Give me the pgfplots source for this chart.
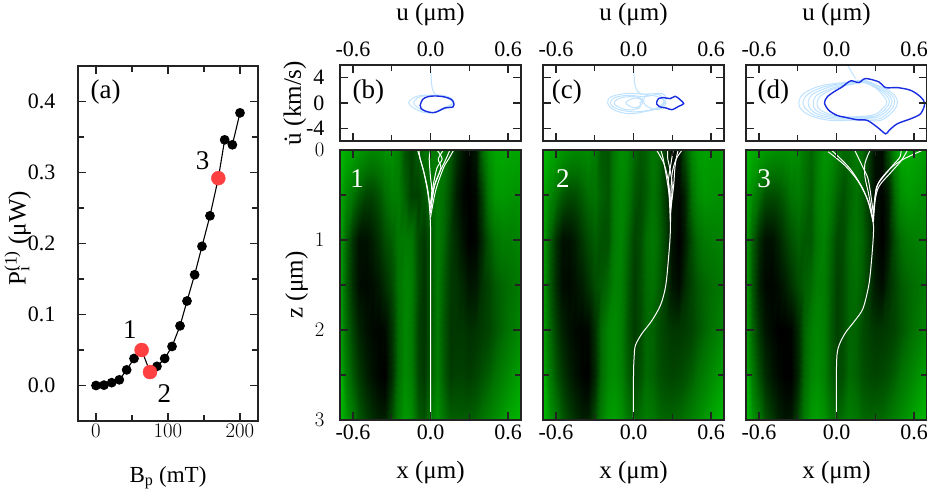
\documentclass[border=0pt]{standalone}
\usepackage{pgfplots}
\usepackage{pgfplotstable}
\pgfplotsset{compat=1.18}
\usepackage{fontspec}
\setmainfont{Liberation Serif}
\definecolor{lb}{RGB}{190,226,255}
\definecolor{db}{RGB}{25,45,225}
\definecolor{rd}{RGB}{255,64,64}
\definecolor{fr}{RGB}{35,35,35}
\pgfplotstableread[row sep=\\]{v\\
100\\92\\85\\78\\72\\68\\70\\75\\75\\65\\38\\30\\42\\55\\60\\62\\60\\45\\25\\10\\3\\12\\50\\78\\88\\90\\88\\88\\88\\
88\\70\\55\\42\\32\\32\\40\\52\\62\\62\\45\\30\\30\\40\\55\\60\\52\\35\\15\\3\\0\\5\\30\\62\\78\\80\\78\\75\\78\\
82\\48\\22\\8\\8\\14\\24\\36\\45\\58\\60\\58\\35\\26\\42\\60\\50\\30\\20\\8\\0\\3\\20\\42\\55\\62\\62\\64\\68\\
82\\45\\20\\6\\4\\6\\12\\22\\35\\55\\66\\62\\36\\24\\42\\60\\45\\28\\25\\18\\10\\12\\24\\32\\42\\48\\52\\56\\62\\
85\\52\\30\\16\\8\\4\\2\\5\\25\\52\\68\\60\\32\\24\\42\\60\\42\\26\\26\\26\\22\\24\\28\\32\\40\\48\\55\\62\\70\\
90\\62\\40\\26\\15\\8\\2\\0\\22\\52\\70\\62\\34\\26\\45\\62\\44\\28\\30\\30\\28\\32\\38\\45\\54\\62\\70\\78\\85\\
100\\80\\60\\42\\30\\22\\15\\15\\38\\62\\80\\72\\45\\38\\60\\75\\58\\45\\45\\44\\44\\48\\56\\64\\72\\80\\88\\95\\100\\
100\\80\\60\\42\\30\\22\\15\\15\\38\\62\\80\\72\\45\\38\\60\\75\\58\\45\\45\\44\\44\\48\\56\\64\\72\\80\\88\\95\\100\\
}\heatA
\pgfplotstableread[row sep=\\]{v\\
100\\92\\85\\78\\72\\70\\70\\72\\62\\42\\40\\60\\72\\68\\50\\42\\46\\58\\50\\25\\5\\8\\38\\70\\82\\85\\82\\82\\85\\
88\\70\\55\\42\\35\\36\\44\\52\\55\\45\\40\\60\\68\\60\\42\\36\\44\\55\\45\\25\\5\\3\\18\\55\\72\\78\\76\\74\\74\\
82\\48\\22\\8\\8\\14\\26\\36\\44\\38\\38\\60\\66\\50\\32\\36\\52\\58\\48\\30\\8\\0\\14\\38\\52\\60\\62\\64\\68\\
82\\45\\20\\6\\4\\8\\14\\24\\36\\42\\50\\64\\62\\45\\28\\36\\50\\54\\44\\28\\10\\5\\20\\32\\42\\48\\52\\56\\62\\
85\\52\\30\\16\\8\\4\\2\\4\\24\\50\\66\\70\\62\\42\\28\\34\\48\\46\\36\\30\\26\\26\\28\\32\\40\\48\\55\\62\\70\\
90\\62\\40\\26\\15\\8\\2\\0\\20\\50\\68\\72\\64\\46\\32\\38\\50\\46\\38\\34\\32\\34\\38\\45\\54\\62\\70\\78\\85\\
100\\80\\60\\42\\30\\22\\15\\15\\36\\62\\80\\84\\76\\60\\48\\54\\62\\58\\50\\48\\48\\50\\56\\64\\72\\80\\88\\95\\100\\
100\\80\\60\\42\\30\\22\\15\\15\\36\\62\\80\\84\\76\\60\\48\\54\\62\\58\\50\\48\\48\\50\\56\\64\\72\\80\\88\\95\\100\\
}\heatB
\pgfplotstableread[row sep=\\]{v\\
100\\92\\85\\80\\76\\74\\74\\76\\72\\58\\48\\62\\76\\72\\60\\50\\50\\60\\52\\28\\8\\6\\35\\72\\90\\92\\88\\84\\80\\
88\\70\\52\\38\\35\\38\\46\\56\\60\\52\\44\\62\\70\\62\\46\\38\\46\\55\\45\\24\\6\\2\\14\\52\\74\\80\\78\\74\\72\\
82\\46\\20\\8\\8\\16\\28\\38\\46\\42\\42\\58\\64\\50\\34\\36\\50\\56\\48\\30\\8\\0\\12\\38\\52\\60\\62\\64\\68\\
82\\42\\14\\4\\2\\6\\14\\24\\36\\44\\50\\62\\60\\46\\30\\36\\48\\52\\44\\28\\12\\6\\20\\32\\42\\48\\52\\56\\62\\
85\\48\\24\\10\\4\\0\\0\\2\\20\\46\\62\\68\\62\\44\\30\\36\\48\\46\\36\\30\\26\\26\\28\\32\\40\\48\\55\\62\\70\\
90\\60\\36\\20\\10\\4\\0\\0\\18\\48\\66\\72\\64\\46\\34\\38\\50\\46\\38\\34\\32\\34\\38\\45\\54\\62\\70\\78\\85\\
100\\78\\58\\38\\26\\16\\10\\12\\34\\60\\80\\84\\76\\60\\48\\54\\62\\58\\50\\48\\48\\50\\56\\64\\72\\80\\88\\95\\100\\
100\\78\\58\\38\\26\\16\\10\\12\\34\\60\\80\\84\\76\\60\\48\\54\\62\\58\\50\\48\\48\\50\\56\\64\\72\\80\\88\\95\\100\\
}\heatC
\pgfplotsset{
  base/.style={scale only axis, axis on top,
    axis line style={line width=1.5pt,fr},
    every tick/.style={line width=1.3pt,fr},
    major tick length=8pt, minor tick length=6pt,
    tick align=inside,
    tick label style={font=\fontsize{22}{24}\selectfont},
    xlabel style={font=\fontsize{25}{28}\selectfont},
    ylabel style={font=\fontsize{25}{28}\selectfont},
    yticklabel style={xshift=-12pt},
  },
  heat/.style={base, width=181pt, height=270pt, xmin=-0.7, xmax=0.7, ymin=0, ymax=3, y dir=reverse,
    xtick={-0.6,0,0.6}, xticklabels={-0.6,0.0,0.6}, minor xtick={-0.3,0.3},
    ytick={0,1,2,3}, minor ytick={0.5,1.5,2.5},
    colormap={gr}{rgb255(0)=(0,0,0) rgb255(5)=(0,110,0) rgb255(10)=(0,190,0)}, point meta min=0, point meta max=104,
    xlabel={x (μm)}, xlabel style={at={(axis description cs:0.5,-0.195)},anchor=center},
    xticklabel style={yshift=-1pt},
  },
  phase/.style={base, width=181pt, height=76pt, xmin=-0.7, xmax=0.7, ymin=-6, ymax=6,
    xtick={-0.6,0,0.6}, xticklabels={-0.6,0.0,0.6}, minor xtick={-0.3,0.3},
    xticklabel pos=top, xlabel={u (μm)},
    xticklabel style={yshift=5pt},
    xlabel style={at={(axis description cs:0.5,1.67)},anchor=center},
    ytick={-4,0,4}, yticklabels={,,}, 
  },
  hm/.style={surf, shader=interp, mesh/cols=29, point meta=\thisrow{v}},
  tr/.style={white, line width=1pt, smooth, tension=0.5},
  l/.style={lb, line width=1pt, smooth cycle, tension=0.6},
  t/.style={lb, line width=1pt, smooth, tension=0.6},
  d/.style={db, line width=1.4pt, smooth cycle, tension=0.5},
}
\newcommand{\bigf}{\fontsize{27}{30}\selectfont}
\begin{document}
\begin{tikzpicture}[x=1pt,y=1pt]
\useasboundingbox (0,0) rectangle (927,492);
% panel a
\begin{axis}[base, at={(78pt,71pt)}, anchor=south west, width=180pt, height=355pt,
  xmin=-25, xmax=225, ymin=-0.05, ymax=0.45,
  yticklabel style={xshift=-7pt},
  xtick={0,100,200}, minor xtick={50,150},
  ytick={0,0.1,0.2,0.3,0.4}, yticklabels={0.0,0.1,0.2,0.3,0.4}, minor ytick={0.05,0.15,0.25,0.35},
  xlabel={B\textsubscript{p} (mT)}, ylabel={P\rlap{\textsubscript{i}}\textsuperscript{(1)} (μW)},
  xlabel style={font=\fontsize{23}{26}\selectfont, at={(axis description cs:0.5,-0.16)},anchor=center},
  ylabel style={at={(axis description cs:-0.335,0.515)},anchor=center},
  clip=false]
\addplot[black, line width=1.1pt, mark=*, mark size=4.3pt, mark options={solid,fill=black,draw=black}] coordinates {
(0,0)(11.1,0.0005)(21.8,0.004)(32.4,0.008)(42.6,0.022)(52.8,0.038)(63.4,0.05)(75,0.019)(84.7,0.027)(95.4,0.038)(105.6,0.055)(116.7,0.084)(126.4,0.119)(137,0.156)(147.2,0.196)(158.3,0.239)(169.9,0.292)(178.7,0.346)(189.4,0.339)(200,0.384)};
\addplot[only marks, mark=*, mark size=7pt, mark options={fill=rd,draw=rd}] coordinates {(63.4,0.05)(75,0.019)(169.9,0.292)};
\node[font=\bigf,anchor=north west] at (axis description cs:0.05,0.97) {(a)};
\node[font=\bigf] at (axis cs:47,0.079) {1};
\node[font=\bigf] at (axis cs:95,-0.012) {2};
\node[font=\bigf] at (axis cs:148,0.316) {3};
\end{axis}
% panel b
\begin{axis}[phase, at={(340pt,351pt)}, anchor=south west, yticklabels={-4,0,4},
  ylabel={\.{u} (km/s)},
  ylabel style={at={(axis description cs:-0.25,0.5)},anchor=center}]
\addplot[t] coordinates {(0,5.9)(0.005,4)(0.012,2.5)(0.03,1.5)(0.06,1.2)};
\addplot[l] coordinates {(-0.17,0)(-0.14,0.7)(-0.08,1.2)(0,1.2)(0.1,1.2)(0.16,0.7)(0.18,0)(0.12,-0.8)(0.03,-1.5)(-0.05,-1.5)(-0.13,-0.8)};
\addplot[l] coordinates {(-0.13,0)(-0.1,0.8)(-0.04,1.15)(0.05,1.15)(0.13,0.8)(0.17,0)(0.1,-0.8)(0.02,-1.5)(-0.05,-1.3)(-0.1,-0.7)};
\addplot[d] coordinates {(-0.08,-0.37)(-0.06,0.58)(-0.02,1)(0.044,1.11)(0.109,0.95)(0.16,0.58)(0.18,0)(0.173,-0.63)(0.109,-0.79)(0.057,-1.32)(0.018,-1.53)(-0.034,-1.32)(-0.072,-0.9)};
\node[font=\bigf,anchor=west] at (axis description cs:0.05,0.64) {(b)};
\end{axis}
% panel c
\begin{axis}[phase, at={(543pt,351pt)}, anchor=south west]
\addplot[t] coordinates {(0,5.9)(0.005,4)(0.015,2.5)(0.05,1.5)(0.12,1.3)};
\addplot[l] coordinates {(-0.2,0)(-0.17,1)(-0.05,1.5)(0.1,1.4)(0.22,1.5)(0.25,0.8)(0.24,0)(0.2,-0.8)(0.1,-1.3)(-0.03,-1.7)(-0.15,-1.1)};
\addplot[l] coordinates {(-0.18,0)(-0.14,0.9)(-0.03,1.2)(0.08,1)(0.2,1.3)(0.23,0)(0.15,-1)(0,-1.4)(-0.13,-0.9)};
\addplot[l] coordinates {(-0.15,0)(-0.1,0.8)(0,1)(0.07,0.6)(0.05,0)(0.05,-0.7)(-0.02,-1.1)(-0.1,-0.8)};
\addplot[l] coordinates {(-0.06,0)(-0.03,0.5)(0.02,0.8)(0.06,0.5)(0.07,0)(0.03,-0.7)(-0.02,-0.6)};
\addplot[l] coordinates {(0.1,1.2)(0.2,0.9)(0.25,0)(0.2,-1)(0.12,-0.7)(0.08,0)};
\addplot[d] coordinates {(0.18,0.16)(0.194,0.69)(0.233,0.85)(0.284,0.69)(0.323,1.06)(0.357,0.58)(0.388,-0.1)(0.349,-0.53)(0.297,-1.06)(0.253,-0.79)(0.207,-0.63)(0.18,-0.2)};
\node[font=\bigf,anchor=west] at (axis description cs:0.03,0.64) {(c)};
\end{axis}
% panel d
\begin{axis}[phase, at={(746pt,351pt)}, anchor=south west]
\addplot[t] coordinates {(0.088,5.87)(0.147,3.86)};
\addplot[l] coordinates {(-0.292,0.16)(-0.253,1.48)(-0.15,2.54)(-0.02,3.07)(0.109,3.3)(0.21,3.6)(0.315,2.8)(0.42,1.75)(0.47,0.4)(0.444,-1.16)(0.34,-2.75)(0.21,-2.65)(0.083,-2.75)(-0.046,-2.75)(-0.176,-2.2)(-0.266,-1.16)};
\addplot[l] coordinates {(-0.26,0.1)(-0.22,1.4)(-0.12,2.4)(0,2.95)(0.11,3.2)(0.21,3.5)(0.31,2.7)(0.4,1.7)(0.45,0.4)(0.42,-1.1)(0.33,-2.5)(0.21,-2.4)(0.08,-2.55)(-0.04,-2.5)(-0.16,-2)(-0.23,-1.1)};
\addplot[l] coordinates {(-0.22,0.1)(-0.19,1.3)(-0.1,2.2)(0,2.8)(0.11,3.1)(0.21,3.4)(0.3,2.6)(0.39,1.5)(0.43,0.3)(0.4,-1)(0.32,-2.2)(0.21,-2.3)(0.08,-2.4)(-0.03,-2.3)(-0.14,-1.8)(-0.2,-1)};
\addplot[l] coordinates {(-0.18,0)(-0.16,1.1)(-0.08,2)(0.01,2.6)(0.11,3)(0.21,3.3)(0.3,2.5)(0.38,1.3)(0.41,0.2)(0.38,-0.9)(0.31,-2)(0.21,-2.2)(0.08,-2.3)(-0.02,-2.1)(-0.12,-1.6)(-0.17,-0.9)};
\addplot[l] coordinates {(-0.15,0)(-0.13,1)(-0.06,1.9)(0.02,2.5)(0.11,2.9)(0.21,3.2)(0.3,2.4)(0.36,1.2)(0.39,0.1)(0.36,-0.8)(0.3,-1.8)(0.2,-2.1)(0.08,-2.2)(-0.01,-2)(-0.1,-1.4)(-0.14,-0.8)};
\addplot[d] coordinates {(-0.093,0)(-0.072,0.95)(-0.021,1.75)(0.044,2.54)(0.109,3.49)(0.173,3.23)(0.225,3.86)(0.328,3.33)(0.38,2.43)(0.47,2.43)(0.574,2)(0.651,0.95)(0.682,-0.1)(0.651,-1.69)(0.574,-2.49)(0.47,-3.28)(0.406,-4.34)(0.38,-4.87)(0.315,-3.81)(0.238,-2.75)(0.16,-2.65)(0.083,-2.33)(0.005,-1.96)(-0.059,-1.16)};
\node[font=\bigf,anchor=west] at (axis description cs:0.045,0.64) {(d)};
\end{axis}
% heat 1
\begin{axis}[heat, at={(340pt,72pt)}, anchor=south west,
  ylabel={z (μm)}, ylabel style={at={(axis description cs:-0.24,0.5)},anchor=center}]
\addplot[hm] table[x index=0, y index=0, x expr={-0.7+0.05*mod(\coordindex,29)}, y expr={0.5*floor(\coordindex/29)}] {\heatA};
\addplot[tr] coordinates {(0,3)(0,2)(0,1.2)(0,0.85)(-0.01,0.6)(-0.03,0.4)(-0.06,0.2)(-0.1,0)};
\addplot[tr] coordinates {(0,0.7)(-0.02,0.45)(-0.05,0.25)(-0.08,0.1)(-0.09,0)};
\addplot[tr] coordinates {(0,0.65)(0.01,0.45)(0,0.3)(-0.01,0.1)(0,0)};
\addplot[tr] coordinates {(0,0.75)(0.04,0.45)(0.1,0.2)(0.14,0.1)(0.18,0)};
\addplot[tr] coordinates {(0,0.7)(0.03,0.4)(0.07,0.25)(0.12,0.1)(0.15,0)};
\addplot[tr] coordinates {(0,0.6)(0.02,0.4)(0.05,0.2)(0.09,0.1)(0.05,0)};
\addplot[tr] coordinates {(0,0.6)(0.03,0.4)(0.08,0.2)(0.06,0.1)(0.1,0)};
\node[white,font=\bigf] at (axis description cs:0.095,0.895) {1};
\end{axis}
% heat 2
\begin{axis}[heat, at={(543pt,72pt)}, anchor=south west, yticklabels={}]
\addplot[hm] table[x index=0, y index=0, x expr={-0.7+0.05*mod(\coordindex,29)}, y expr={0.5*floor(\coordindex/29)}] {\heatB};
\addplot[tr] coordinates {(0,3)(0,2.5)(0.005,2.3)(0.015,2.17)(0.065,2.04)(0.14,1.9)(0.21,1.72)(0.25,1.5)(0.275,1.13)(0.285,0.9)(0.285,0.6)(0.27,0.35)(0.235,0.15)(0.178,0)};
\addplot[tr] coordinates {(0.285,0.8)(0.275,0.5)(0.255,0.3)(0.23,0.1)(0.211,0)};
\addplot[tr] coordinates {(0.285,0.7)(0.3,0.4)(0.28,0.2)(0.265,0.1)(0.263,0)};
\addplot[tr] coordinates {(0.285,0.8)(0.29,0.45)(0.3,0.25)(0.33,0.1)(0.376,0)};
\addplot[tr] coordinates {(0.285,0.7)(0.31,0.4)(0.32,0.2)(0.33,0.1)(0.345,0)};
\addplot[tr] coordinates {(0.285,0.6)(0.27,0.35)(0.29,0.15)(0.307,0)};
\node[white,font=\bigf] at (axis description cs:0.11,0.895) {2};
\end{axis}
% heat 3
\begin{axis}[heat, at={(746pt,72pt)}, anchor=south west, yticklabels={}]
\addplot[hm] table[x index=0, y index=0, x expr={-0.7+0.05*mod(\coordindex,29)}, y expr={0.5*floor(\coordindex/29)}] {\heatC};
\addplot[tr] coordinates {(0,3)(0,2.4)(0.013,2.2)(0.065,2.04)(0.14,1.9)(0.205,1.76)(0.25,1.5)(0.27,1.24)(0.285,0.95)(0.283,0.8)(0.245,0.57)(0.168,0.35)(0.064,0.17)(-0.064,0.02)};
\addplot[tr] coordinates {(0.283,0.8)(0.25,0.6)(0.2,0.42)(0.1,0.2)(-0.04,0)};
\addplot[tr] coordinates {(0.285,0.7)(0.258,0.43)(0.24,0.3)(0.2,0.18)(0.14,0)};
\addplot[tr] coordinates {(0.285,0.8)(0.25,0.5)(0.22,0.3)(0.22,0.15)(0.26,0)};
\addplot[tr] coordinates {(0.285,0.7)(0.3,0.5)(0.33,0.35)(0.42,0.2)(0.52,0.1)(0.67,0)};
\addplot[tr] coordinates {(0.285,0.8)(0.3,0.55)(0.33,0.4)(0.42,0.25)(0.5,0.12)(0.55,0)};
\addplot[tr] coordinates {(0.285,0.75)(0.3,0.5)(0.32,0.38)(0.43,0.18)(0.49,0.08)(0.5,0)};
\node[white,font=\bigf] at (axis description cs:0.1,0.895) {3};
\end{axis}
\end{tikzpicture}
\end{document}
